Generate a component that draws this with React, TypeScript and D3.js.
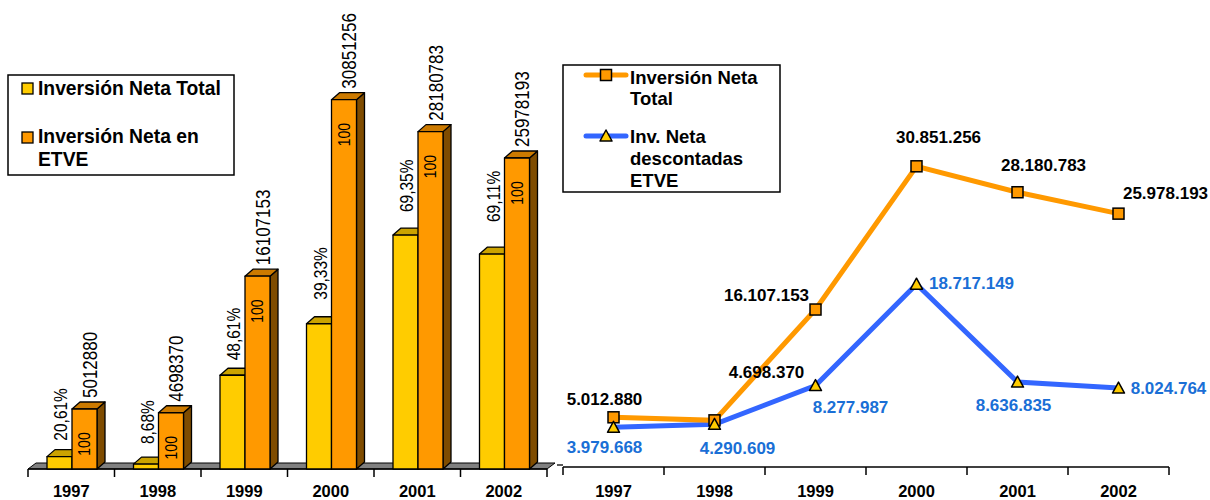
import React, { useEffect, useRef } from 'react';
import * as d3 from 'd3';

const years = ['1997', '1998', '1999', '2000', '2001', '2002'];
// Inversión Neta (total) - orange bars / orange line
const totalValues = [5012880, 4698370, 16107153, 30851256, 28180783, 25978193];
// yellow bars (share of total)
const shareValues = [1033212, 407761, 7829166, 12134107, 19543948, 17953429];
const shareLabels = ['20,61%', '8,68%', '48,61%', '39,33%', '69,35%', '69,11%'];
// Inv. Neta descontadas ETVE - blue line
const discountedValues = [3979668, 4290609, 8277987, 18717149, 8636835, 8024764];

const fmt = (v: number) => String(v).replace(/\B(?=(\d{3})+(?!\d))/g, '.');

// hand placed label offsets (Excel style)
const shareLabelGap = [9, 13, 8, 17, 16, 25];
const totalLabelOffset = [[-9, -18], [52, -48], [-49, -14], [22, -29], [26, -27], [47, -20]];
const discLabelOffset = [[-9, 20], [23, 24], [35, 22], [55, -1], [-4, 23], [50, 0]];

const FONT = "'Liberation Sans', Arial, sans-serif";

const App = () => {
  const svgRef = useRef<SVGSVGElement>(null);

  useEffect(() => {
    if (!svgRef.current) return;
    const svg = d3.select(svgRef.current);
    svg.selectAll('*').remove();

    // ---------- left: 3D columns ----------
    const base = 469;
    const dx = 8, dy = 7;
    const x0 = d3.scaleBand().domain(years).range([28, 547]).padding(0);
    const x1 = d3.scaleBand().domain(['share', 'total']).range([19, 69]).padding(0);
    const yL = d3.scaleLinear().domain([0, 35000000]).range([base, 50]);

    const left = svg.append('g');

    // floor
    left.append('path')
      .attr('d', `M28,${base} L36,${base - 6} L555,${base - 6} L547,${base} Z`)
      .attr('fill', '#808080')
      .attr('stroke', '#000')
      .attr('stroke-width', 1);

    left.append('line')
      .attr('x1', 28).attr('x2', 547).attr('y1', base).attr('y2', base)
      .attr('stroke', '#000').attr('stroke-width', 1.5);
    d3.range(years.length + 1).forEach(i => {
      const x = 28 + i * x0.bandwidth();
      left.append('line')
        .attr('x1', x).attr('x2', x).attr('y1', base).attr('y2', base + 8)
        .attr('stroke', '#000').attr('stroke-width', 1.5);
    });

    const bar3d = (x: number, top: number, w: number, front: string, topC: string, side: string) => {
      const g = left.append('g').attr('stroke', '#000').attr('stroke-width', 1.3).attr('stroke-linejoin', 'round');
      g.append('path')
        .attr('d', `M${x + w},${top} L${x + w + dx},${top - dy} L${x + w + dx},${base - dy} L${x + w},${base} Z`)
        .attr('fill', side);
      g.append('path')
        .attr('d', `M${x},${top} L${x + dx},${top - dy} L${x + w + dx},${top - dy} L${x + w},${top} Z`)
        .attr('fill', topC);
      g.append('rect')
        .attr('x', x).attr('y', top).attr('width', w).attr('height', base - top)
        .attr('fill', front);
    };

    years.forEach((yr, i) => {
      const w = x1.bandwidth();
      const xs = x0(yr)! + x1('share')!;
      const xt = x0(yr)! + x1('total')!;
      bar3d(xs, yL(shareValues[i]), w, '#FFCC00', '#CCA300', '#806600');
      bar3d(xt, yL(totalValues[i]), w, '#FF9900', '#CC7A00', '#7F4C00');
    });

    // rotated labels (glyphs a bit wider across, like the original)
    years.forEach((yr, i) => {
      const w = x1.bandwidth();
      const xs = x0(yr)! + x1('share')! + w / 2;
      const xt = x0(yr)! + x1('total')! + w / 2;
      const ts = yL(shareValues[i]);
      const tt = yL(totalValues[i]);
      left.append('text')
        .attr('transform', `translate(${xs + 2},${ts - dy - shareLabelGap[i]}) rotate(-90) scale(1,1.18)`)
        .attr('dominant-baseline', 'central')
        .attr('font-family', FONT).attr('font-size', '15.5px').attr('fill', '#000')
        .text(shareLabels[i]);
      left.append('text')
        .attr('transform', `translate(${xt + 5},${tt - dy - 4}) rotate(-90) scale(1,1.2)`)
        .attr('dominant-baseline', 'central')
        .attr('font-family', FONT).attr('font-size', '17px').attr('fill', '#000')
        .text(String(totalValues[i]));
      left.append('text')
        .attr('transform', `translate(${xt},${tt + 35}) rotate(-90) scale(1,1.17)`)
        .attr('dominant-baseline', 'central')
        .attr('text-anchor', 'middle')
        .attr('font-family', FONT).attr('font-size', '14px').attr('fill', '#000')
        .text('100');
    });

    left.selectAll('.yearL')
      .data(years)
      .enter()
      .append('text')
      .attr('x', d => x0(d)! + x0.bandwidth() / 2)
      .attr('y', 497)
      .attr('text-anchor', 'middle')
      .attr('font-family', FONT).attr('font-size', '16.5px').attr('font-weight', 'bold')
      .text(d => d);

    // left legend
    const lg = svg.append('g');
    lg.append('rect').attr('x', 8).attr('y', 75).attr('width', 226).attr('height', 100)
      .attr('fill', '#fff').attr('stroke', '#000').attr('stroke-width', 1.5);
    lg.append('rect').attr('x', 22).attr('y', 83).attr('width', 11).attr('height', 11)
      .attr('fill', '#FFCC00').attr('stroke', '#000').attr('stroke-width', 1.3);
    lg.append('rect').attr('x', 22).attr('y', 132).attr('width', 11).attr('height', 11)
      .attr('fill', '#FF9900').attr('stroke', '#000').attr('stroke-width', 1.3);
    [['Inversión Neta Total', 95], ['Inversión Neta en', 143], ['ETVE', 166]].forEach(([t, y]) => {
      lg.append('text').attr('x', 38).attr('y', y as number)
        .attr('font-family', FONT).attr('font-size', '19.3px').attr('font-weight', 'bold')
        .text(t as string);
    });

    // ---------- right: lines ----------
    const axisY = 467;
    const xR = d3.scaleBand().domain(years).range([563, 1169]).padding(0);
    const yR = d3.scaleLinear().domain([0, 35000000]).range([466, 126]);
    const right = svg.append('g');

    right.append('line').attr('x1', 557).attr('x2', 563).attr('y1', 465).attr('y2', 465)
      .attr('stroke', '#000').attr('stroke-width', 1.3);
    right.append('line').attr('x1', 563).attr('x2', 1169).attr('y1', axisY).attr('y2', axisY)
      .attr('stroke', '#000').attr('stroke-width', 1.5);
    d3.range(years.length + 1).forEach(i => {
      const x = 563 + i * xR.bandwidth();
      right.append('line')
        .attr('x1', x).attr('x2', x).attr('y1', axisY).attr('y2', axisY + 8)
        .attr('stroke', '#000').attr('stroke-width', 1.5);
    });
    right.selectAll('.yearR')
      .data(years)
      .enter()
      .append('text')
      .attr('x', d => xR(d)! + xR.bandwidth() / 2)
      .attr('y', 497)
      .attr('text-anchor', 'middle')
      .attr('font-family', FONT).attr('font-size', '16.5px').attr('font-weight', 'bold')
      .text(d => d);

    const cx = (i: number) => xR(years[i])! + xR.bandwidth() / 2;
    const line = d3.line<number>().x((_, i) => cx(i)).y(d => yR(d));

    right.append('path').datum(discountedValues).attr('d', line)
      .attr('fill', 'none').attr('stroke', '#3366FF').attr('stroke-width', 5);
    right.append('path').datum(totalValues).attr('d', line)
      .attr('fill', 'none').attr('stroke', '#FF9900').attr('stroke-width', 5);

    const square = (g: any, x: number, y: number) =>
      g.append('rect').attr('x', x - 5.5).attr('y', y - 5.5).attr('width', 11).attr('height', 11)
        .attr('fill', '#FF9900').attr('stroke', '#000').attr('stroke-width', 1.5);
    const tri = (g: any, x: number, y: number) =>
      g.append('path').attr('d', `M${x},${y - 6} L${x + 6},${y + 5} L${x - 6},${y + 5} Z`)
        .attr('fill', '#FFCC00').attr('stroke', '#000').attr('stroke-width', 1.5).attr('stroke-linejoin', 'round');

    totalValues.forEach((v, i) => square(right, cx(i), yR(v)));
    discountedValues.forEach((v, i) => tri(right, cx(i), yR(v)));

    totalValues.forEach((v, i) => {
      right.append('text')
        .attr('x', cx(i) + totalLabelOffset[i][0])
        .attr('y', yR(v) + totalLabelOffset[i][1])
        .attr('text-anchor', 'middle').attr('dominant-baseline', 'central')
        .attr('font-family', FONT).attr('font-size', '17px').attr('font-weight', 'bold')
        .attr('fill', '#000')
        .text(fmt(v));
    });
    discountedValues.forEach((v, i) => {
      right.append('text')
        .attr('x', cx(i) + discLabelOffset[i][0])
        .attr('y', yR(v) + discLabelOffset[i][1])
        .attr('text-anchor', 'middle').attr('dominant-baseline', 'central')
        .attr('font-family', FONT).attr('font-size', '17px').attr('font-weight', 'bold')
        .attr('fill', '#1A6FD6')
        .text(fmt(v));
    });

    // right legend
    const rg = svg.append('g');
    rg.append('rect').attr('x', 563).attr('y', 65).attr('width', 217).attr('height', 127)
      .attr('fill', '#fff').attr('stroke', '#000').attr('stroke-width', 1.5);
    rg.append('line').attr('x1', 586).attr('x2', 626).attr('y1', 75).attr('y2', 75)
      .attr('stroke', '#FF9900').attr('stroke-width', 5).attr('stroke-linecap', 'round');
    square(rg, 606, 75);
    rg.append('line').attr('x1', 586).attr('x2', 626).attr('y1', 136).attr('y2', 136)
      .attr('stroke', '#3366FF').attr('stroke-width', 5).attr('stroke-linecap', 'round');
    tri(rg, 606, 136);
    [['Inversión Neta', 84], ['Total', 105], ['Inv. Neta', 143], ['descontadas', 165], ['ETVE', 187]].forEach(([t, y]) => {
      rg.append('text').attr('x', 630).attr('y', y as number)
        .attr('font-family', FONT).attr('font-size', '18.5px').attr('font-weight', 'bold')
        .text(t as string);
    });
  }, []);

  return (
    <svg
      ref={svgRef}
      width={1210}
      height={500}
      style={{ position: 'absolute', left: 0, top: 0, background: '#fff' }}
    />
  );
};

export default App;
